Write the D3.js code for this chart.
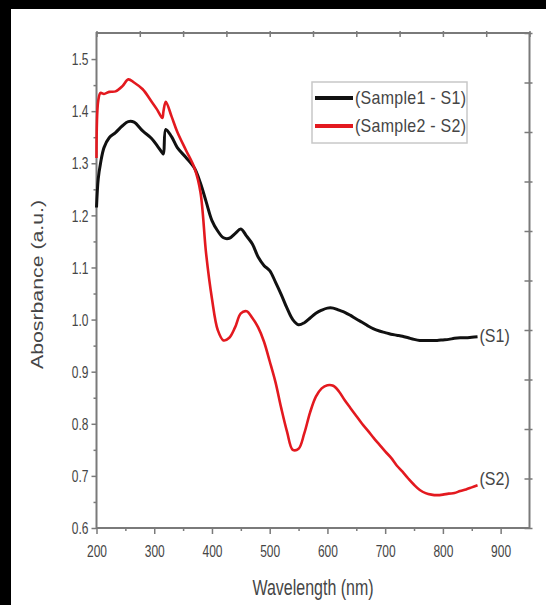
<!DOCTYPE html>
<html>
<head>
<meta charset="utf-8">
<script src="https://cdn.jsdelivr.net/npm/d3@7"></script>
<style>
  body { margin: 0; background: #fff; }
  svg { display: block; font-family: "Liberation Sans", Arial, sans-serif; }
</style>
</head>
<body>
<svg width="546" height="605"></svg>
<script>
const wavelengths = [200, 203, 207, 213, 222, 233, 245, 255, 265, 280, 295, 305, 314, 316, 320, 330, 340, 355, 370, 380,
  390, 400, 410, 420, 430, 440, 450, 460, 470, 480, 490, 500, 510, 520, 530, 540, 550, 560, 570, 580,
  590, 600, 610, 620, 630, 640, 650, 660, 670, 680, 690, 700, 710, 720, 730, 740, 750, 760, 770, 780,
  790, 800, 810, 820, 830, 840, 850, 860];

const s1Values = [1.215, 1.27, 1.30, 1.33, 1.349, 1.359, 1.372, 1.380, 1.379, 1.362, 1.348, 1.334, 1.320, 1.318, 1.365, 1.351, 1.330, 1.311, 1.290, 1.262,
  1.226, 1.190, 1.170, 1.157, 1.156, 1.165, 1.174, 1.160, 1.145, 1.120, 1.104, 1.094, 1.072, 1.048, 1.022, 1.000, 0.990, 0.994, 1.003, 1.012,
  1.018, 1.022, 1.022, 1.018, 1.014, 1.008, 1.001, 0.995, 0.988, 0.982, 0.978, 0.975, 0.972, 0.970, 0.968, 0.965, 0.962, 0.960, 0.960, 0.960,
  0.960, 0.961, 0.962, 0.964, 0.965, 0.965, 0.966, 0.967];

const s2Values = [1.31, 1.42, 1.435, 1.433, 1.437, 1.438, 1.448, 1.461, 1.455, 1.442, 1.419, 1.403, 1.387, 1.400, 1.418, 1.390, 1.360, 1.325, 1.290, 1.245,
  1.125, 1.040, 0.980, 0.960, 0.965, 0.985, 1.012, 1.016, 1.003, 0.985, 0.958, 0.920, 0.880, 0.830, 0.785, 0.750, 0.752, 0.782, 0.822, 0.852,
  0.868, 0.874, 0.873, 0.862, 0.845, 0.830, 0.815, 0.800, 0.787, 0.773, 0.760, 0.747, 0.735, 0.720, 0.708, 0.695, 0.683, 0.673, 0.667, 0.664,
  0.663, 0.664, 0.666, 0.667, 0.671, 0.674, 0.678, 0.682];

const xTicks = [200, 300, 400, 500, 600, 700, 800, 900];
const xMinorTicks = [250, 350, 450, 550, 650, 750, 850];
const yTicks = [0.6, 0.7, 0.8, 0.9, 1.0, 1.1, 1.2, 1.3, 1.4, 1.5];
const yMinorTicks = [0.65, 0.75, 0.85, 0.95, 1.05, 1.15, 1.25, 1.35, 1.45];
const seriesNames = ["(Sample1 - S1)", "(Sample2 - S2)"];
const endLabels = ["(S1)", "(S2)"];
const seriesColors = ["#111111", "#e3191f"];

const plotLeft = 96.5, plotRight = 529.5, plotTop = 33, plotBottom = 528;
const axisColor = "#7a7a7a";
const textColor = "#454545";

const svg = d3.select("svg");

// frame of the picture (top and left edges only)
svg.append("rect").attr("x", 0).attr("y", 0).attr("width", 546).attr("height", 9).attr("fill", "#000");
svg.append("rect").attr("x", 0).attr("y", 0).attr("width", 11).attr("height", 605).attr("fill", "#000");

const xScale = d3.scaleLinear().domain([200, 950]).range([plotLeft, plotRight]);
const yScale = d3.scaleLinear().domain([0.6, 1.55]).range([plotBottom, plotTop]);
// mirror axes carry their own evenly spaced ticks
const topScale = d3.scaleLinear().domain([0, 10]).range([plotLeft, plotRight]);
const rightScale = d3.scaleLinear().domain([0, 10]).range([plotBottom, plotTop]);

function styleAxis(g) {
  g.select(".domain").remove();
  g.selectAll("line").attr("stroke", axisColor).attr("stroke-width", 1.5);
  g.selectAll("text").attr("fill", textColor);
}

// bottom axis
svg.append("g")
  .attr("transform", `translate(0, ${plotBottom})`)
  .call(d3.axisBottom(xScale).tickValues(xTicks).tickSize(6).tickFormat(d3.format("d")))
  .call(styleAxis)
  .call(g => g.selectAll("text")
    .attr("font-size", 12)
    .attr("y", 0).attr("dy", "0.35em")
    .attr("transform", "translate(0, 23) scale(1, 1.35)"));

svg.append("g")
  .attr("transform", `translate(0, ${plotBottom})`)
  .call(d3.axisBottom(xScale).tickValues(xMinorTicks).tickSize(3).tickFormat(""))
  .call(styleAxis);

// left axis
svg.append("g")
  .attr("transform", `translate(${plotLeft}, 0)`)
  .call(d3.axisLeft(yScale).tickValues(yTicks).tickSize(5).tickFormat(d3.format(".1f")))
  .call(styleAxis)
  .call(g => g.selectAll("text")
    .attr("font-size", 12)
    .attr("x", 0).attr("dy", "0.35em")
    .attr("transform", "translate(-8, 0) scale(1, 1.35)"));

svg.append("g")
  .attr("transform", `translate(${plotLeft}, 0)`)
  .call(d3.axisLeft(yScale).tickValues(yMinorTicks).tickSize(3).tickFormat(""))
  .call(styleAxis);

// top axis
svg.append("g")
  .attr("transform", `translate(0, ${plotTop})`)
  .call(d3.axisBottom(topScale).ticks(10).tickSize(4).tickFormat(""))
  .call(styleAxis)
  .call(g => g.selectAll("line").attr("y1", -2));

// right axis
svg.append("g")
  .attr("transform", `translate(${plotRight}, 0)`)
  .call(d3.axisLeft(rightScale).ticks(10).tickSize(5).tickFormat(""))
  .call(styleAxis)
  .call(g => g.selectAll("line").attr("x1", 3));

// plot frame
svg.append("rect")
  .attr("x", plotLeft).attr("y", plotTop)
  .attr("width", plotRight - plotLeft).attr("height", plotBottom - plotTop)
  .attr("fill", "none")
  .attr("stroke", axisColor)
  .attr("stroke-width", 2);

const series = [s1Values, s2Values].map((vals, i) => ({
  name: seriesNames[i],
  label: endLabels[i],
  color: seriesColors[i],
  points: wavelengths.map((w, j) => [w, vals[j]])
}));

const line = d3.line()
  .x(d => xScale(d[0]))
  .y(d => yScale(d[1]))
  .curve(d3.curveCatmullRom.alpha(0.5));

svg.selectAll(".series")
  .data(series)
  .enter()
  .append("path")
  .attr("class", "series")
  .attr("d", s => line(s.points))
  .attr("fill", "none")
  .attr("stroke", s => s.color)
  .attr("stroke-width", (s, i) => i === 0 ? 3 : 2.6)
  .attr("stroke-linejoin", "round");

// end labels
svg.selectAll(".endlabel")
  .data(series)
  .enter()
  .append("text")
  .attr("class", "endlabel")
  .attr("transform", (s, i) => {
    const p = s.points[s.points.length - 1];
    return `translate(${xScale(p[0]) + 2}, ${yScale(p[1]) - (i === 0 ? 1 : 7)}) scale(1, 1.2)`;
  })
  .attr("dy", "0.35em")
  .attr("font-size", 16)
  .attr("fill", textColor)
  .text(s => s.label);

// legend
const legend = svg.append("g").attr("transform", "translate(312, 82)");
legend.append("rect")
  .attr("width", 155).attr("height", 61)
  .attr("fill", "#fff")
  .attr("stroke", "#c8c8c8")
  .attr("stroke-width", 1.5);

const items = legend.selectAll(".item")
  .data(series)
  .enter()
  .append("g")
  .attr("class", "item")
  .attr("transform", (s, i) => `translate(0, ${16 + i * 28})`);

items.append("line")
  .attr("x1", 3).attr("x2", 41)
  .attr("stroke", s => s.color)
  .attr("stroke-width", 4);

items.append("text")
  .attr("x", 0)
  .attr("dy", "0.35em")
  .attr("transform", "translate(43, 0) scale(1, 1.15)")
  .attr("font-size", 16)
  .attr("fill", textColor)
  .attr("textLength", 111)
  .text(s => s.name);

// axis titles
svg.append("text")
  .attr("transform", `translate(${(plotLeft + plotRight) / 2}, 588) scale(1, 1.33)`)
  .attr("text-anchor", "middle")
  .attr("dy", "0.35em")
  .attr("font-size", 16)
  .attr("fill", textColor)
  .text("Wavelength (nm)");

svg.append("text")
  .attr("transform", `translate(37, ${(plotTop + plotBottom) / 2 + 4}) scale(1, 1.33) rotate(-90)`)
  .attr("text-anchor", "middle")
  .attr("dy", "0.35em")
  .attr("font-size", 16)
  .attr("fill", textColor)
  .text("Abosrbance (a.u.)");
</script>
</body>
</html>
